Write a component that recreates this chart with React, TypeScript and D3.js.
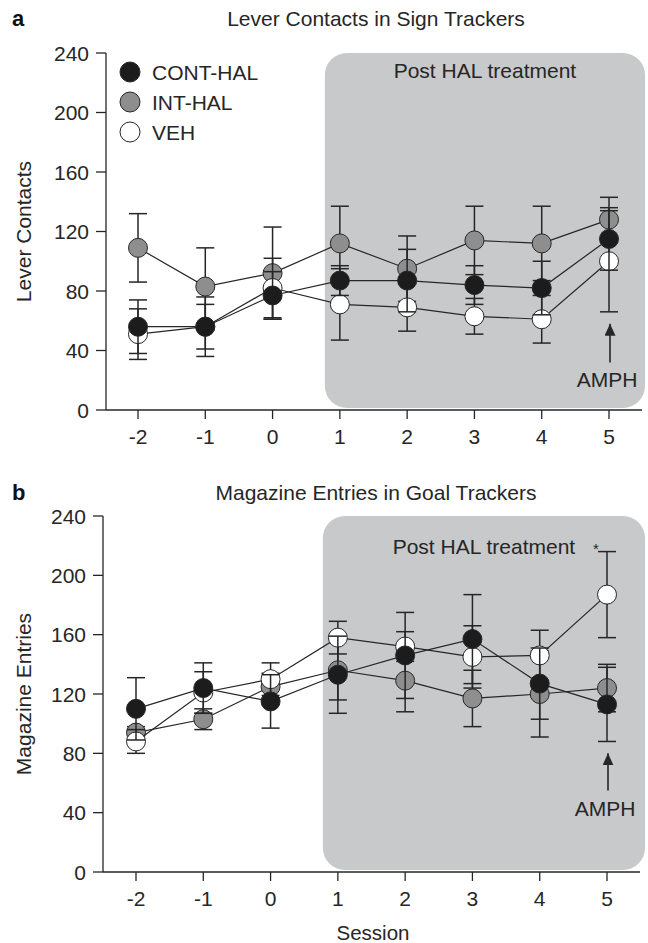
import { useRef, useEffect } from 'react';
import * as d3 from 'd3';

const sessions = [-2, -1, 0, 1, 2, 3, 4, 5];
const yTicks = [0, 40, 80, 120, 160, 200, 240];

const leverCont = [56, 56, 77, 87, 87, 84, 82, 115];
const leverContErr = [18, 20, 16, 10, 21, 13, 18, 21];
const leverInt = [109, 83, 92, 112, 95, 114, 112, 128];
const leverIntErr = [23, 26, 31, 25, 22, 23, 25, 15];
const leverVeh = [51, 56, 82, 71, 69, 63, 61, 100];
const leverVehErr = [17, 15, 20, 24, 16, 12, 16, 34];

const magCont = [110, 124, 115, 133, 146, 157, 127, 113];
const magContErr = [21, 17, 18, 26, 29, 30, 24, 25];
const magInt = [94, 103, 125, 136, 129, 117, 120, 124];
const magIntErr = [4, 7, 9, 20, 21, 19, 29, 16];
const magVeh = [88, 121, 130, 158, 152, 145, 146, 187];
const magVehErr = [8, 14, 11, 11, 10, 21, 17, 29];

const groups = ['CONT-HAL', 'INT-HAL', 'VEH'];
const groupFill = { 'CONT-HAL': '#1c1c1c', 'INT-HAL': '#8e8e8e', VEH: '#ffffff' };

const FONT = '"Liberation Sans", Arial, Helvetica, sans-serif';
const INK = '#262626';

const panels = [
  {
    letter: 'a', title: 'Lever Contacts in Sign Trackers', yLabel: 'Lever Contacts',
    series: { 'CONT-HAL': [leverCont, leverContErr], 'INT-HAL': [leverInt, leverIntErr], VEH: [leverVeh, leverVehErr] },
    xRange: [138, 609], yRange: [410, 53], axisX: 106, axisEnd: 642,
    titleY: 26, boxTextDy: 25, legend: true, xLabel: null,
    amph: { tip: 58, tail: 32, text: 15.5 }, star: null,
  },
  {
    letter: 'b', title: 'Magazine Entries in Goal Trackers', yLabel: 'Magazine Entries',
    series: { 'CONT-HAL': [magCont, magContErr], 'INT-HAL': [magInt, magIntErr], VEH: [magVeh, magVehErr] },
    xRange: [136, 607], yRange: [872, 516], axisX: 103, axisEnd: 640,
    titleY: 500, boxTextDy: 38, legend: false, xLabel: 'Session',
    amph: { tip: 80, tail: 55, text: 38 }, star: 218,
  },
];

const App = () => {
  const svgRef = useRef(null);

  useEffect(() => {
    document.body.style.margin = '0';
    const svg = d3.select(svgRef.current);
    svg.selectAll('*').remove();

    svg.append('defs').append('marker')
      .attr('id', 'arrow')
      .attr('viewBox', '0 0 10 10')
      .attr('refX', 10).attr('refY', 5)
      .attr('markerWidth', 12).attr('markerHeight', 11)
      .attr('markerUnits', 'userSpaceOnUse')
      .attr('orient', 'auto')
      .attr('preserveAspectRatio', 'none')
      .append('path')
      .attr('d', 'M0,0 L10,5 L0,10 Z')
      .attr('fill', INK);

    panels.forEach(p => {
      const g = svg.append('g');
      const x = d3.scaleLinear().domain([-2, 5]).range(p.xRange);
      const y = d3.scaleLinear().domain([0, 240]).range(p.yRange);

      // shaded post-treatment box
      const boxLeft = x(1) - 15;
      g.append('rect')
        .attr('x', boxLeft)
        .attr('y', y(240))
        .attr('width', 645 - boxLeft)
        .attr('height', y(0) - y(240) - 2)
        .attr('rx', 22)
        .attr('fill', '#c8c9cb');

      g.append('text')
        .attr('x', (boxLeft + 645) / 2)
        .attr('y', y(240) + p.boxTextDy)
        .attr('text-anchor', 'middle')
        .attr('font-family', FONT).attr('font-size', 21).attr('fill', INK)
        .text('Post HAL treatment');

      // axes
      g.append('line')
        .attr('x1', p.axisX).attr('x2', p.axisX)
        .attr('y1', y(0)).attr('y2', y(240))
        .attr('stroke', INK).attr('stroke-width', 1.3);
      g.append('line')
        .attr('x1', p.axisX).attr('x2', p.axisEnd)
        .attr('y1', y(0)).attr('y2', y(0))
        .attr('stroke', INK).attr('stroke-width', 1.3);

      yTicks.forEach(t => {
        g.append('line')
          .attr('x1', p.axisX - 10).attr('x2', p.axisX)
          .attr('y1', y(t)).attr('y2', y(t))
          .attr('stroke', INK).attr('stroke-width', 1.3);
        g.append('text')
          .attr('x', p.axisX - 17).attr('y', y(t) + 7.5)
          .attr('text-anchor', 'end')
          .attr('font-family', FONT).attr('font-size', 21).attr('fill', INK)
          .text(t);
      });

      sessions.forEach(s => {
        g.append('line')
          .attr('x1', x(s)).attr('x2', x(s))
          .attr('y1', y(0)).attr('y2', y(0) + 9)
          .attr('stroke', INK).attr('stroke-width', 1.3);
        g.append('text')
          .attr('x', x(s)).attr('y', y(0) + 34)
          .attr('text-anchor', 'middle')
          .attr('font-family', FONT).attr('font-size', 21).attr('fill', INK)
          .text(s);
      });

      if (p.xLabel) {
        g.append('text')
          .attr('x', 373).attr('y', y(0) + 68)
          .attr('text-anchor', 'middle')
          .attr('font-family', FONT).attr('font-size', 20.5).attr('fill', INK)
          .text(p.xLabel);
      }

      // titles
      g.append('text')
        .attr('x', 12).attr('y', p.titleY)
        .attr('font-family', FONT).attr('font-size', 22).attr('font-weight', 'bold').attr('fill', '#111')
        .text(p.letter);
      g.append('text')
        .attr('x', 376).attr('y', p.titleY)
        .attr('text-anchor', 'middle')
        .attr('font-family', FONT).attr('font-size', 21).attr('fill', INK)
        .text(p.title);
      g.append('text')
        .attr('transform', `translate(31,${(y(0) + y(240)) / 2}) rotate(-90)`)
        .attr('text-anchor', 'middle')
        .attr('font-family', FONT).attr('font-size', 21).attr('fill', INK)
        .text(p.yLabel);

      // series
      const line = d3.line().x(d => x(d[0])).y(d => y(d[1]));
      ['INT-HAL', 'VEH', 'CONT-HAL'].forEach(name => {
        const [vals, errs] = p.series[name];
        const pts = sessions.map((s, i) => [s, vals[i], errs[i]]);
        g.append('path')
          .datum(pts)
          .attr('d', line)
          .attr('fill', 'none')
          .attr('stroke', INK)
          .attr('stroke-width', 1.2);

        const eb = g.append('g').attr('stroke', INK).attr('stroke-width', 1.5);
        pts.forEach(([s, v, e]) => {
          eb.append('line').attr('x1', x(s)).attr('x2', x(s)).attr('y1', y(v - e)).attr('y2', y(v + e));
          [v - e, v + e].forEach(c => {
            eb.append('line').attr('x1', x(s) - 9).attr('x2', x(s) + 9).attr('y1', y(c)).attr('y2', y(c));
          });
        });

        g.selectAll(null)
          .data(pts)
          .enter()
          .append('circle')
          .attr('cx', d => x(d[0]))
          .attr('cy', d => y(d[1]))
          .attr('r', 9.5)
          .attr('fill', groupFill[name])
          .attr('stroke', INK)
          .attr('stroke-width', 1);
      });

      // AMPH arrow
      g.append('line')
        .attr('x1', x(5) + 1).attr('x2', x(5) + 1)
        .attr('y1', y(p.amph.tail)).attr('y2', y(p.amph.tip))
        .attr('stroke', INK).attr('stroke-width', 1.6)
        .attr('marker-end', 'url(#arrow)');
      g.append('text')
        .attr('x', x(5) - 2).attr('y', y(p.amph.text))
        .attr('text-anchor', 'middle')
        .attr('font-family', FONT).attr('font-size', 21).attr('fill', INK)
        .text('AMPH');

      if (p.star) {
        g.append('text')
          .attr('x', x(5) - 11).attr('y', y(p.star) + 5)
          .attr('text-anchor', 'middle')
          .attr('font-family', FONT).attr('font-size', 15).attr('fill', INK)
          .text('*');
      }

      if (p.legend) {
        groups.forEach((name, i) => {
          const ly = 72 + i * 30;
          g.append('circle')
            .attr('cx', 130).attr('cy', ly).attr('r', 10)
            .attr('fill', groupFill[name])
            .attr('stroke', INK).attr('stroke-width', 1);
          g.append('text')
            .attr('x', 152).attr('y', ly + 7.5)
            .attr('font-family', FONT).attr('font-size', 21).attr('fill', INK)
            .text(name);
        });
      }
    });
  }, []);

  return (
    <svg ref={svgRef} width={648} height={943} style={{ display: 'block', background: '#fff' }} />
  );
};

export default App;
